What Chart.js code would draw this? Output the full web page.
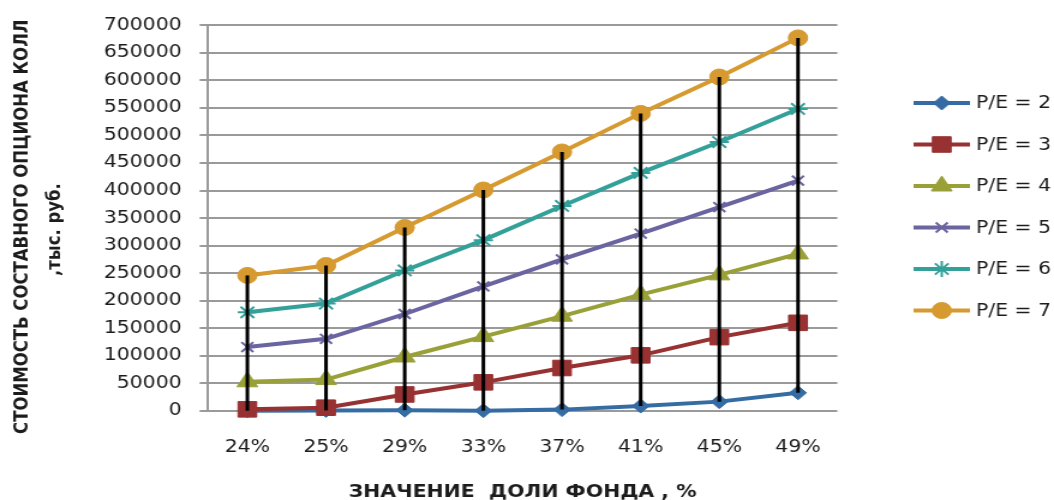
<!DOCTYPE html>
<html>
<head>
<meta charset="utf-8">
<script src="https://cdn.jsdelivr.net/npm/chart.js@4/dist/chart.umd.min.js"></script>
<style>
  html, body { margin: 0; padding: 0; background: #fff; overflow: hidden; }
  #chart { display: block; }
</style>
</head>
<body>
<!-- drawn on a narrower canvas and widened by CSS, so text and markers come out slightly stretched -->
<canvas id="chart" width="878" height="500" style="width:1054px;height:500px"></canvas>
<script>
// Fund share on the x axis
const categories = ['24%', '25%', '29%', '33%', '37%', '41%', '45%', '49%'];

// Series names
const seriesNames = ['P/E = 2', 'P/E = 3', 'P/E = 4', 'P/E = 5', 'P/E = 6', 'P/E = 7'];

// Value of the compound call option, thousand rubles
const pe2 = [500, 1000, 1500, 500, 2500, 9000, 17000, 33000];
const pe3 = [3000, 6000, 30000, 52000, 78000, 101000, 134000, 160000];
const pe4 = [53000, 57000, 98000, 135000, 172000, 211000, 247000, 285000];
const pe5 = [116000, 131000, 176000, 226000, 275000, 322000, 370000, 418000];
const pe6 = [179000, 195000, 255000, 310000, 372000, 432000, 488000, 548000];
const pe7 = [246000, 264000, 333000, 401000, 470000, 540000, 606000, 677000];

// Value axis range
const yMin = 0;
const yMax = 700000;
const yStep = 50000;

const seriesValues = [pe2, pe3, pe4, pe5, pe6, pe7];

const seriesStyles = [
  { color: '#356ca3', point: 'rectRot',  radius: 7,  pointLine: 1 },
  { color: '#983232', point: 'rect',     radius: 11, pointLine: 1 },
  { color: '#9aa038', point: 'triangle', radius: 10, pointLine: 1 },
  { color: '#6a64a0', point: 'crossRot', radius: 7,  pointLine: 2 },
  { color: '#34a09a', point: 'star',     radius: 8,  pointLine: 2 },
  { color: '#d69a30', point: 'circle',   radius: 8,  pointLine: 1 }
];

const LINE_WIDTH = 4;
const TEXT_COLOR = '#1c1c1c';
const GRID_COLOR = '#9a9a9a';

const datasets = seriesValues.map((values, i) => {
  const s = seriesStyles[i];
  return {
    label: seriesNames[i],
    data: values,
    borderColor: s.color,
    backgroundColor: s.color,
    borderWidth: LINE_WIDTH,
    pointStyle: s.point,
    pointRadius: s.radius,
    pointHoverRadius: s.radius,
    pointBorderWidth: s.pointLine,
    pointBackgroundColor: s.color,
    pointBorderColor: s.color,
    tension: 0,
    clip: false,
    order: seriesValues.length - 1 - i
  };
});

// Vertical high-low lines joining the top and bottom series at each category
const highLowLines = {
  id: 'highLowLines',
  afterDatasetsDraw(chart) {
    const { ctx, scales: { x, y } } = chart;
    ctx.save();
    ctx.strokeStyle = '#000000';
    ctx.lineWidth = 3;
    ctx.lineCap = 'butt';
    categories.forEach((_, i) => {
      const vals = seriesValues.map(v => v[i]);
      const hi = Math.max(...vals);
      const lo = Math.min(...vals);
      const px = x.getPixelForValue(i);
      ctx.beginPath();
      ctx.moveTo(px, y.getPixelForValue(hi));
      ctx.lineTo(px, y.getPixelForValue(lo));
      ctx.stroke();
    });
    ctx.restore();
  }
};

// Legend on the right: line sample with its marker, then the series name
const sideLegend = {
  id: 'sideLegend',
  afterDraw(chart) {
    const { ctx } = chart;
    const x0 = 761, x1 = 808, textX = 813, top = 103, gap = 41.5;
    ctx.save();
    chart.data.datasets.forEach((ds, i) => {
      const yy = top + i * gap;
      ctx.strokeStyle = ds.borderColor;
      ctx.lineWidth = LINE_WIDTH;
      ctx.beginPath();
      ctx.moveTo(x0, yy);
      ctx.lineTo(x1, yy);
      ctx.stroke();
      ctx.fillStyle = ds.pointBackgroundColor;
      ctx.strokeStyle = ds.pointBorderColor;
      ctx.lineWidth = ds.pointBorderWidth;
      Chart.helpers.drawPoint(ctx, {
        pointStyle: ds.pointStyle,
        rotation: 0,
        radius: ds.pointRadius,
        borderWidth: ds.pointBorderWidth
      }, (x0 + x1) / 2, yy);
      ctx.fillStyle = TEXT_COLOR;
      ctx.font = '17px "DejaVu Sans"';
      ctx.textAlign = 'left';
      ctx.textBaseline = 'middle';
      ctx.fillText(ds.label, textX, yy + 1);
    });
    ctx.restore();
  }
};

new Chart(document.getElementById('chart'), {
  type: 'line',
  data: { labels: categories, datasets },
  plugins: [highLowLines, sideLegend],
  options: {
    responsive: false,
    devicePixelRatio: 1,
    animation: false,
    layout: { padding: { top: 25, right: 180.5, left: 0, bottom: 0 } },
    plugins: {
      legend: { display: false },
      tooltip: { enabled: false }
    },
    scales: {
      x: {
        offset: true,
        grid: { display: false, drawTicks: false, tickLength: 0 },
        border: { display: false },
        ticks: {
          color: TEXT_COLOR,
          font: { family: '"DejaVu Sans"', size: 17 },
          padding: 26,
          maxRotation: 0,
          autoSkip: false
        },
        title: {
          display: true,
          text: 'ЗНАЧЕНИЕ  ДОЛИ ФОНДА , %',
          color: TEXT_COLOR,
          font: { family: '"DejaVu Sans"', size: 17, weight: 'bold', lineHeight: 0.85 },
          padding: { top: 0, bottom: 0 }
        },
        afterFit(scale) { scale.height = 89; }
      },
      y: {
        min: yMin,
        max: yMax,
        grid: {
          color: GRID_COLOR,
          lineWidth: 2,
          drawTicks: true,
          tickLength: 7
        },
        border: { display: true, color: GRID_COLOR, width: 2 },
        ticks: {
          stepSize: yStep,
          color: TEXT_COLOR,
          font: { family: '"DejaVu Sans"', size: 17 },
          padding: 15,
          callback: v => String(v)
        },
        title: {
          display: true,
          // trailing spaces keep each rotated line a little lower on the axis
          text: ['СТОИМОСТЬ СОСТАВНОГО ОПЦИОНА КОЛЛ   ', ',тыс. руб.    '],
          color: TEXT_COLOR,
          font: { family: '"DejaVu Sans"', size: 16.5, weight: 'bold', lineHeight: 1.667 },
          padding: { top: 4.5, bottom: 0 }
        },
        afterFit(scale) { scale.width = 173.3; }
      }
    }
  }
});
</script>
</body>
</html>
